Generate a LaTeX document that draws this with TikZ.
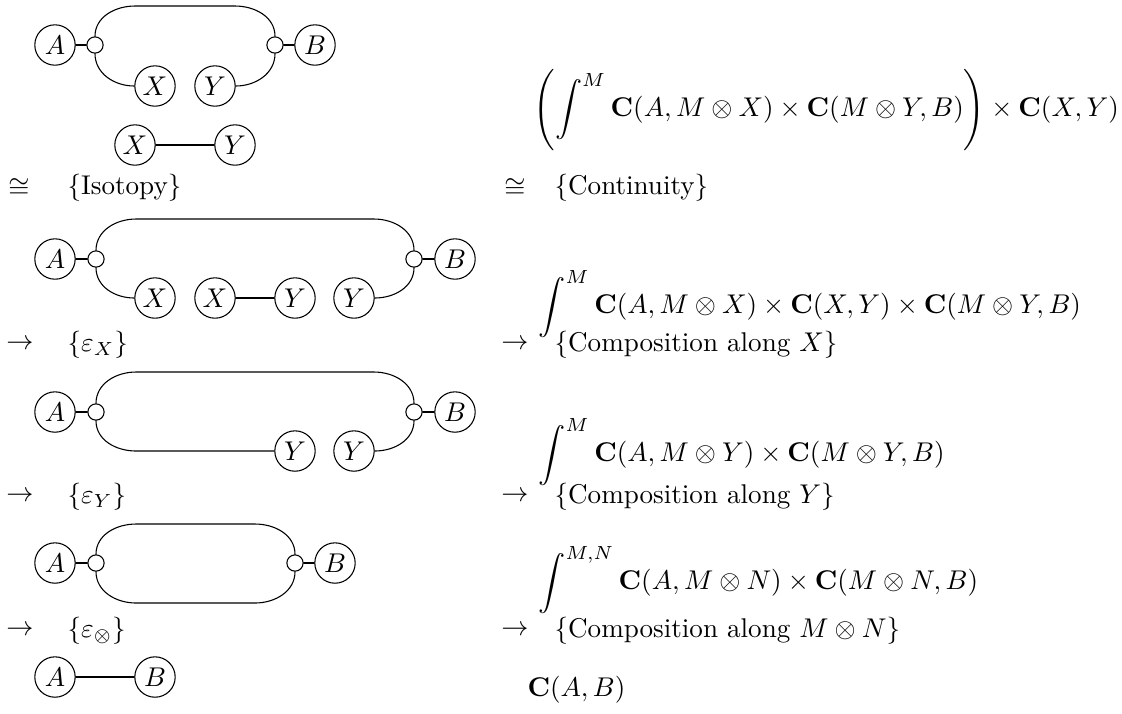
\documentclass[tikz,border=0pt]{standalone}
\usepackage{tikz}
\usetikzlibrary{positioning}
\usepackage{amsmath}
\usepackage{amssymb}
\tikzset{
  objnode/.style={circle,draw,minimum size=14.9pt,inner sep=0pt},
  dotnode/.style={circle,draw,minimum size=6pt,inner sep=0pt},
  every picture/.style={line cap=round,line join=round}
}

\begin{document}
\begin{tikzpicture}[x=0.369pt,y=0.369pt]
  \useasboundingbox (0,0) rectangle (1122,-713);

  % first string diagram
  \node[objnode] (A1) at (55,-45) {$A$};
  \node[dotnode] (l1) at (95,-45) {};
  \node[objnode] (X1) at (155,-86) {$X$};
  \node[objnode] (Y1) at (215,-86) {$Y$};
  \node[dotnode] (r1) at (275,-45) {};
  \node[objnode] (B1) at (315,-45) {$B$};
  \coordinate (t1l) at (135,-6);
  \coordinate (t1r) at (235,-6);
  \draw (A1) -- (l1);
  \draw (r1) -- (B1);
  \draw (l1) to[out=90,in=180] (t1l) -- (t1r) to[out=0,in=90] (r1);
  \draw (l1) to[out=-90,in=180] (X1);
  \draw (Y1) to[out=0,in=-90] (r1);
  \node[objnode] (Xb) at (135,-145) {$X$};
  \node[objnode] (Yb) at (235,-145) {$Y$};
  \draw (Xb) -- (Yb);

  % second
  \node[objnode] (A2) at (55,-259) {$A$};
  \node[dotnode] (l2) at (96,-259) {};
  \node[objnode] (X2) at (155,-298) {$X$};
  \node[objnode] (X2b) at (215,-298) {$X$};
  \node[objnode] (Y2) at (295,-298) {$Y$};
  \node[objnode] (Y2b) at (354,-298) {$Y$};
  \node[dotnode] (r2) at (414,-259) {};
  \node[objnode] (B2) at (455,-259) {$B$};
  \coordinate (t2l) at (136,-219);
  \coordinate (t2r) at (374,-219);
  \draw (A2) -- (l2);
  \draw (r2) -- (B2);
  \draw (l2) to[out=90,in=180] (t2l) -- (t2r) to[out=0,in=90] (r2);
  \draw (l2) to[out=-90,in=180] (X2);
  \draw (X2b) -- (Y2);
  \draw (Y2b) to[out=0,in=-90] (r2);

  % third
  \node[objnode] (A3) at (55,-412) {$A$};
  \node[dotnode] (l3) at (96,-412) {};
  \node[objnode] (Y3) at (295,-451) {$Y$};
  \node[objnode] (Y3b) at (354,-451) {$Y$};
  \node[dotnode] (r3) at (414,-412) {};
  \node[objnode] (B3) at (455,-412) {$B$};
  \coordinate (t3l) at (136,-372);
  \coordinate (t3r) at (374,-372);
  \coordinate (b3l) at (136,-451);
  \draw (A3) -- (l3);
  \draw (r3) -- (B3);
  \draw (l3) to[out=90,in=180] (t3l) -- (t3r) to[out=0,in=90] (r3);
  \draw (l3) to[out=-90,in=180] (b3l) -- (Y3);
  \draw (Y3b) to[out=0,in=-90] (r3);

  % fourth
  \node[objnode] (A4) at (55,-563) {$A$};
  \node[dotnode] (l4) at (96,-563) {};
  \node[dotnode] (r4) at (295,-563) {};
  \node[objnode] (B4) at (335,-563) {$B$};
  \coordinate (t4l) at (136,-524);
  \coordinate (t4r) at (255,-524);
  \coordinate (b4l) at (136,-603);
  \coordinate (b4r) at (255,-603);
  \draw (A4) -- (l4);
  \draw (r4) -- (B4);
  \draw (l4) to[out=90,in=180] (t4l) -- (t4r) to[out=0,in=90] (r4);
  \draw (l4) to[out=-90,in=180] (b4l) -- (b4r) to[out=0,in=-90] (r4);

  % last
  \node[objnode] (A5) at (55,-677) {$A$};
  \node[objnode] (B5) at (155,-677) {$B$};
  \draw (A5) -- (B5);

  % steps, left
  \node (s1) at (19,-188) {$\cong$};
  \node[anchor=west] (j1) at (58,-188) {$\{\text{Isotopy}\}$};
  \node (s2) at (20,-345) {$\to$};
  \node[anchor=west] (j2) at (58,-345) {$\{\varepsilon_X\}$};
  \node (s3) at (20,-497) {$\to$};
  \node[anchor=west] (j3) at (58,-497) {$\{\varepsilon_Y\}$};
  \node (s4) at (20,-631) {$\to$};
  \node[anchor=west] (j4) at (58,-631) {$\{\varepsilon_\otimes\}$};

  % ends, right
  \node[anchor=west] (e1) at (524,-110)
    {$\displaystyle\left(\int^M \mathbf{C}(A,M\otimes X)\times\mathbf{C}(M\otimes Y,B)\right)\times\mathbf{C}(X,Y)$};
  \node[anchor=west] (e2) at (529,-304)
    {$\displaystyle\int^M \mathbf{C}(A,M\otimes X)\times\mathbf{C}(X,Y)\times\mathbf{C}(M\otimes Y,B)$};
  \node[anchor=west] (e3) at (529,-452)
    {$\displaystyle\int^M \mathbf{C}(A,M\otimes Y)\times\mathbf{C}(M\otimes Y,B)$};
  \node[anchor=west] (e4) at (529,-580)
    {$\displaystyle\int^{M,N} \mathbf{C}(A,M\otimes N)\times\mathbf{C}(M\otimes N,B)$};
  \node[anchor=west] (e5) at (518,-690) {$\mathbf{C}(A,B)$};

  % steps, right
  \node (u1) at (515,-188) {$\cong$};
  \node[anchor=west] (k1) at (545,-188) {$\{\text{Continuity}\}$};
  \node (u2) at (515,-345) {$\to$};
  \node[anchor=west] (k2) at (545,-345) {$\{\text{Composition along }X\}$};
  \node (u3) at (515,-497) {$\to$};
  \node[anchor=west] (k3) at (545,-497) {$\{\text{Composition along }Y\}$};
  \node (u4) at (515,-631) {$\to$};
  \node[anchor=west] (k4) at (545,-631) {$\{\text{Composition along }M\otimes N\}$};
\end{tikzpicture}
\end{document}
